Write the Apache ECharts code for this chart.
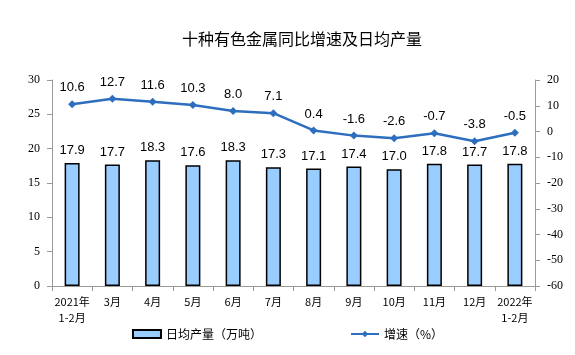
<!DOCTYPE html>
<html><head><meta charset="utf-8">
<script src="https://cdn.jsdelivr.net/npm/echarts@6/dist/echarts.min.js"></script>
<style>html,body{margin:0;padding:0;background:#fff}#c{width:575px;height:355px}</style>
</head><body><div id="c"></div>
<script>
const categories = ['2021年\n1-2月','3月','4月','5月','6月','7月','8月','9月','10月','11月','12月','2022年\n1-2月'];
const output = [17.9,17.7,18.3,17.6,18.3,17.3,17.1,17.4,17.0,17.8,17.7,17.8];
const growth = [10.6,12.7,11.6,10.3,8.0,7.1,0.4,-1.6,-2.6,-0.7,-3.8,-0.5];
const leftTicks = [0,5,10,15,20,25,30];
const rightTicks = [-60,-50,-40,-30,-20,-10,0,10,20];

const chart = echarts.init(document.getElementById('c'));
const axisFont = {fontFamily:'Liberation Serif', fontSize:12, color:'#000'};
chart.setOption({
  animation:false,
  title:{text:'十种有色金属同比增速及日均产量', left:177, top:26, padding:5,
    textStyle:{fontFamily:'Noto Sans CJK SC', fontSize:16, fontWeight:'normal', color:'#000'}},
  legend:{bottom:10, left:'center', itemGap:88, itemWidth:28, itemHeight:8,
    textStyle:{fontFamily:'Noto Sans CJK SC', fontSize:12, color:'#000'},
    data:[{name:'日均产量（万吨）', icon:'rect'},{name:'增速（%）'}]},
  grid:{left:52, right:40, top:80, bottom:69},
  xAxis:{type:'category', data:categories,
    axisLine:{lineStyle:{color:'#999'}},
    axisTick:{show:true, alignWithLabel:false, lineStyle:{color:'#999'}},
    axisLabel:{interval:0, fontFamily:'Noto Sans CJK SC', fontSize:11, color:'#000', lineHeight:16, margin:8}},
  yAxis:[
    {type:'value', min:leftTicks[0], max:leftTicks[leftTicks.length-1], interval:5,
      axisLine:{show:true, lineStyle:{color:'#999'}}, axisTick:{show:true, lineStyle:{color:'#999'}},
      splitLine:{show:false}, axisLabel:Object.assign({margin:12}, axisFont)},
    {type:'value', min:rightTicks[0], max:rightTicks[rightTicks.length-1], interval:10,
      axisLine:{show:true, lineStyle:{color:'#999'}}, axisTick:{show:true, lineStyle:{color:'#999'}},
      splitLine:{show:false}, axisLabel:Object.assign({margin:12}, axisFont)}
  ],
  series:[
    {name:'日均产量（万吨）', type:'bar', data:output, barWidth:15, yAxisIndex:0,
      itemStyle:{color:'#99CCFF', borderColor:'#000', borderWidth:1.5},
      label:{show:true, position:'top', distance:6, fontFamily:'Liberation Sans', fontSize:13, color:'#000',
        formatter:p=>p.value.toFixed(1)}},
    {name:'增速（%）', type:'line', data:growth, yAxisIndex:1, symbol:'diamond', symbolSize:8,
      lineStyle:{color:'#2E6EBE', width:2.5}, itemStyle:{color:'#2E6EBE'},
      label:{show:true, position:'top', distance:6, fontFamily:'Liberation Sans', fontSize:13, color:'#000',
        formatter:p=>p.value.toFixed(1)}}
  ]
});
</script></body></html>
